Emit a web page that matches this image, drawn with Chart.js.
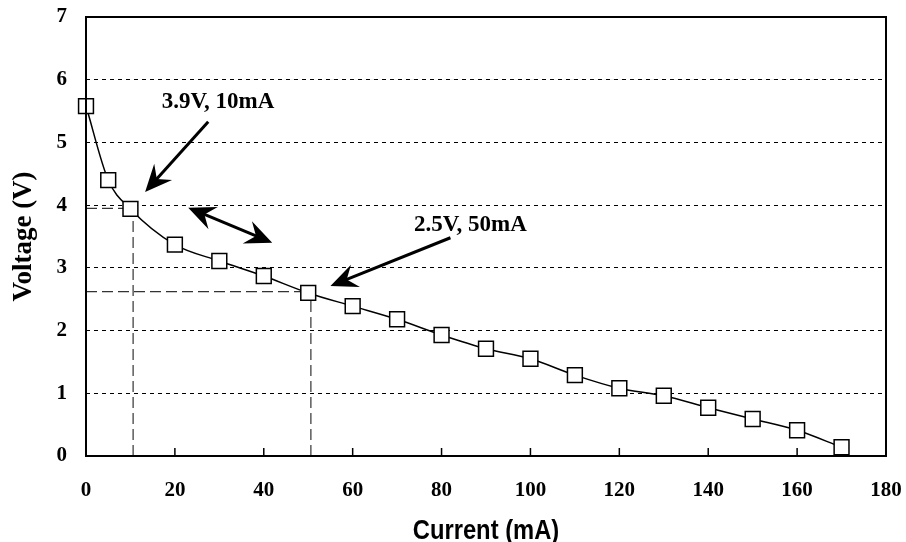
<!DOCTYPE html>
<html>
<head>
<meta charset="utf-8">
<script src="https://cdn.jsdelivr.net/npm/chart.js@4.4.1/dist/chart.umd.min.js"></script>
<style>
html,body{margin:0;padding:0;background:#fff;}
#wrap{width:906px;height:542px;position:relative;}
</style>
</head>
<body>
<div id="wrap"><canvas id="c" width="906" height="542"></canvas></div>
<script>
// ---- data ----
const currents = [0, 5, 10, 20, 30, 40, 50, 60, 70, 80, 90, 100, 110, 120, 130, 140, 150, 160, 170];
const voltages = [5.58, 4.40, 3.94, 3.37, 3.11, 2.87, 2.60, 2.39, 2.18, 1.93, 1.71, 1.55, 1.29, 1.08, 0.96, 0.77, 0.59, 0.41, 0.14];
const xTicks = [0, 20, 40, 60, 80, 100, 120, 140, 160, 180];
const yTicks = [0, 1, 2, 3, 4, 5, 6, 7];
const xTitle = 'Current (mA)';
const yTitle = 'Voltage (V)';
// reference (operating) points marked with dashed drop lines
const refX = [10.6, 50.6];
const refY = [3.95, 2.62];
// annotation labels (data coords)
const noteText = ["3.9V, 10mA", "2.5V, 50mA"];
const noteX = [29.7, 86.5];
const noteY = [5.65, 3.68];
// arrows
const arrowFromX = [27.5, 23.0, 82.0];
const arrowFromY = [5.33, 3.96, 3.48];
const arrowToX = [13.3, 41.9, 55.0];
const arrowToY = [4.21, 3.40, 2.71];
const arrowDouble = [false, true, false];

const serif = "'Liberation Serif', 'Times New Roman', serif";
const sans = "'Liberation Sans', Arial, sans-serif";

const overlay = {
  id: 'overlay',
  beforeDatasetsDraw(chart) {
    const {ctx, chartArea: a, scales: {x, y}} = chart;
    ctx.save();
    ctx.strokeStyle = '#333';
    ctx.lineWidth = 1.2;
    ctx.setLineDash([11, 5]);
    for (let i = 0; i < refX.length; i++) {
      const px = x.getPixelForValue(refX[i]);
      const py = y.getPixelForValue(refY[i]);
      ctx.beginPath();
      ctx.moveTo(a.left, py); ctx.lineTo(px, py);
      ctx.moveTo(px, a.bottom); ctx.lineTo(px, py);
      ctx.stroke();
    }
    ctx.setLineDash([]);
    ctx.strokeStyle = '#000';
    ctx.lineWidth = 1.5;
    xTicks.forEach(v => {
      const px = x.getPixelForValue(v);
      ctx.beginPath(); ctx.moveTo(px, a.bottom); ctx.lineTo(px, a.bottom - 8); ctx.stroke();
    });
    ctx.restore();
  },
  afterDatasetsDraw(chart) {
    const {ctx, chartArea: a, scales: {x, y}} = chart;
    ctx.save();
    ctx.strokeStyle = '#000';
    ctx.lineWidth = 2;
    ctx.strokeRect(a.left, a.top, a.right - a.left, a.bottom - a.top);
    const head = (tx, ty, ang) => {
      const L = 27, W = 12;
      const bx = tx - L * Math.cos(ang), by = ty - L * Math.sin(ang);
      const nx = -Math.sin(ang), ny = Math.cos(ang);
      ctx.beginPath();
      ctx.moveTo(tx, ty);
      ctx.lineTo(bx + nx * W, by + ny * W);
      ctx.lineTo(bx + 0.35 * L * Math.cos(ang), by + 0.35 * L * Math.sin(ang));
      ctx.lineTo(bx - nx * W, by - ny * W);
      ctx.closePath();
      ctx.fill();
    };
    ctx.fillStyle = '#000';
    ctx.lineWidth = 3;
    for (let i = 0; i < arrowFromX.length; i++) {
      const fx = x.getPixelForValue(arrowFromX[i]), fy = y.getPixelForValue(arrowFromY[i]);
      const tx = x.getPixelForValue(arrowToX[i]), ty = y.getPixelForValue(arrowToY[i]);
      const ang = Math.atan2(ty - fy, tx - fx);
      const sx = arrowDouble[i] ? fx + 15 * Math.cos(ang) : fx;
      const sy = arrowDouble[i] ? fy + 15 * Math.sin(ang) : fy;
      ctx.beginPath();
      ctx.moveTo(sx, sy);
      ctx.lineTo(tx - 15 * Math.cos(ang), ty - 15 * Math.sin(ang));
      ctx.stroke();
      head(tx, ty, ang);
      if (arrowDouble[i]) head(fx, fy, ang + Math.PI);
    }
    ctx.font = "bold 23px " + serif;
    ctx.textAlign = 'center';
    ctx.textBaseline = 'middle';
    for (let i = 0; i < noteText.length; i++) {
      ctx.fillText(noteText[i], x.getPixelForValue(noteX[i]), y.getPixelForValue(noteY[i]));
    }
    // x-axis title (condensed bold sans)
    ctx.translate((a.left + a.right) / 2, 539);
    ctx.scale(0.88, 1);
    ctx.font = "bold 27px " + sans;
    ctx.textBaseline = 'alphabetic';
    ctx.fillText(xTitle, 0, 0);
    ctx.restore();
  }
};

new Chart(document.getElementById('c'), {
  type: 'line',
  data: {
    datasets: [{
      data: currents.map((c, i) => ({x: c, y: voltages[i]})),
      borderColor: '#000',
      borderWidth: 1.5,
      cubicInterpolationMode: 'monotone',
      clip: false,
      pointStyle: 'rect',
      pointRadius: 10.5,
      pointBorderWidth: 1.5,
      pointBorderColor: '#000',
      pointBackgroundColor: '#fff'
    }]
  },
  options: {
    responsive: false,
    animation: false,
    events: [],
    layout: {padding: {top: 17, right: 20, bottom: 0, left: 0}},
    plugins: {legend: {display: false}, tooltip: {enabled: false}},
    scales: {
      x: {
        type: 'linear', min: 0, max: 180,
        afterFit: s => { s.height = 86; s.paddingLeft = 0; s.paddingRight = 0; },
        afterBuildTicks: s => { s.ticks = xTicks.map(v => ({value: v})); },
        grid: {display: false, drawTicks: false},
        border: {display: false},
        ticks: {color: '#000', padding: 22, font: {family: serif, size: 21, weight: 'bold'}, maxRotation: 0},
        title: {display: false, text: xTitle}
      },
      y: {
        type: 'linear', min: 0, max: 7,
        afterFit: s => { s.width = 86; s.paddingTop = 0; s.paddingBottom = 0; },
        afterBuildTicks: s => { s.ticks = yTicks.map(v => ({value: v})); },
        grid: {color: '#000', lineWidth: 1, drawTicks: false},
        border: {display: false, dash: [4, 4]},
        ticks: {color: '#000', padding: 19, font: {family: serif, size: 21, weight: 'bold'}},
        title: {display: true, text: yTitle, color: '#000',
          font: {family: serif, size: 27, weight: 'bold'},
          padding: {top: 8, bottom: 0}}
      }
    }
  },
  plugins: [overlay]
});
</script>
</body>
</html>
